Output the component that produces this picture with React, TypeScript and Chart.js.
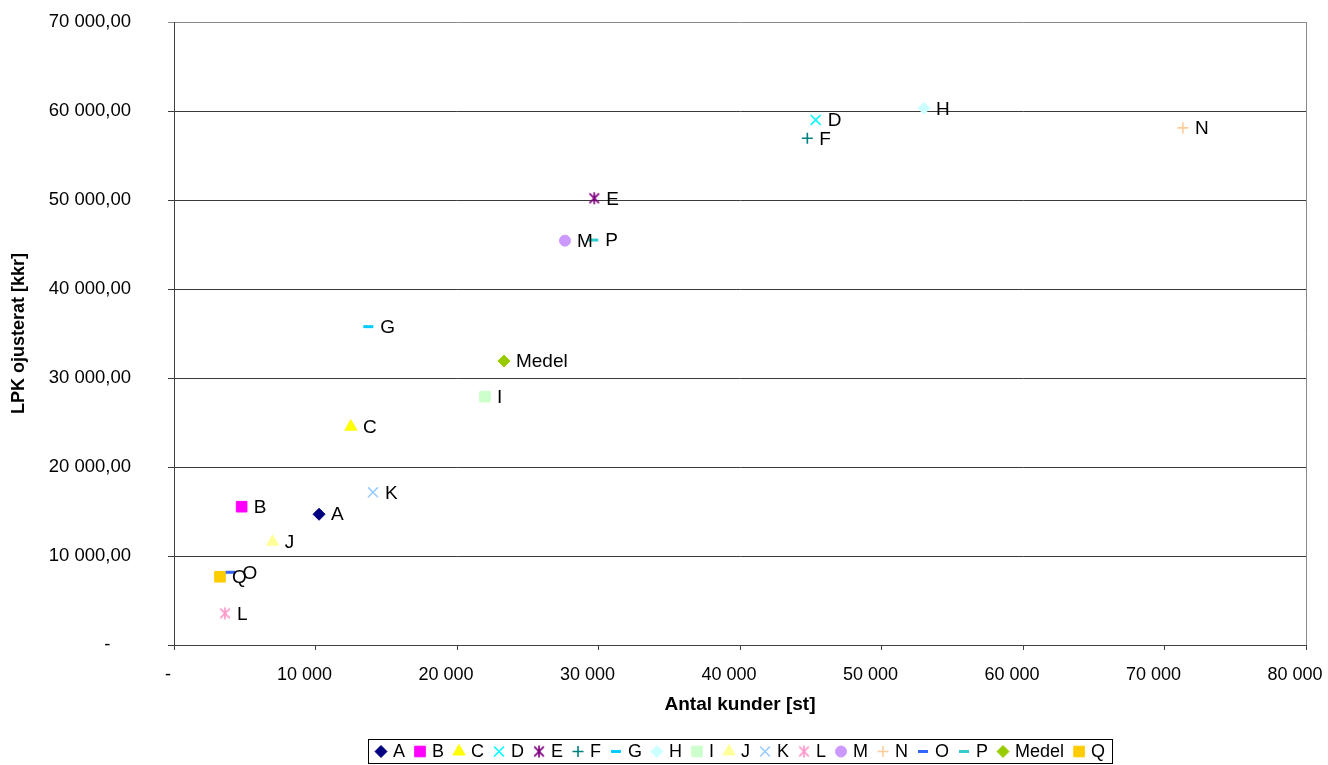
import React, { useEffect, useRef } from "react";
import { Chart, registerables } from "chart.js";
import { drawPoint } from "chart.js/helpers";

Chart.register(...registerables);

const seriesNames = ["A", "B", "C", "D", "E", "F", "G", "H", "I", "J", "K", "L", "M", "N", "O", "P", "Medel", "Q"];
const customers = [10250, 4780, 12500, 45350, 29700, 44760, 13730, 53000, 21980, 6970, 14060, 3600, 27630, 71300, 4000, 29630, 23320, 3250];
const lpk = [14690, 15540, 24530, 58990, 50190, 56930, 35770, 60300, 27900, 11600, 17160, 3560, 45430, 58100, 8170, 45500, 31910, 7670];
const colors = ["#000080", "#FF00FF", "#FFFF00", "#00FFFF", "#800080", "#008080", "#00CCFF", "#CCFFFF", "#CCFFCC", "#FFFF99", "#99CCFF", "#FF99CC", "#CC99FF", "#FFCC99", "#3366FF", "#33CCCC", "#99CC00", "#FFCC00"];
const markers = ["rectRot", "rect", "triangle", "crossRot", "asterisk", "cross", "line", "rectRot", "rect", "triangle", "crossRot", "asterisk", "circle", "cross", "line", "line", "rectRot", "rect"];

const xTicks = [0, 10000, 20000, 30000, 40000, 50000, 60000, 70000, 80000];
const yTicks = [0, 10000, 20000, 30000, 40000, 50000, 60000, 70000];

const FONT = "'Liberation Sans', Arial, sans-serif";

const radiusFor = (m: string) => {
  switch (m) {
    case "rect": return 7.5;
    case "rectRot": return 6;
    case "triangle": return 7;
    case "circle": return 5.5;
    case "crossRot": return 7;
    case "asterisk": return 6;
    case "cross": return 5.5;
    case "line": return 5;
    default: return 5;
  }
};
const widthFor = (m: string) => (m === "line" ? 3 : m === "cross" || m === "crossRot" || m === "asterisk" ? 1.6 : 1);

function asteriskCanvas(color: string, size: number) {
  const c = document.createElement("canvas");
  c.width = size;
  c.height = size;
  const g = c.getContext("2d")!;
  const m = size / 2;
  const r = size / 2 - 1;
  g.strokeStyle = color;
  g.lineWidth = 1.7;
  g.beginPath();
  g.moveTo(m, m - r);
  g.lineTo(m, m + r);
  const d = r * 0.8;
  g.moveTo(m - d, m - d);
  g.lineTo(m + d, m + d);
  g.moveTo(m + d, m - d);
  g.lineTo(m - d, m + d);
  g.stroke();
  return c;
}

const spaced = (v: number) => Math.round(v).toString().replace(/\B(?=(\d{3})+(?!\d))/g, " ");

const labelsPlugin = {
  id: "pointLabels",
  afterDatasetsDraw(chart: any) {
    const ctx = chart.ctx;
    ctx.save();
    ctx.font = `19px ${FONT}`;
    ctx.fillStyle = "#000";
    ctx.textBaseline = "middle";
    ctx.textAlign = "left";
    chart.data.datasets.forEach((ds: any, i: number) => {
      const meta = chart.getDatasetMeta(i);
      const el = meta.data[0];
      if (!el) return;
      ctx.fillText(ds.label, el.x + 12, el.y + 1);
    });
    ctx.restore();
  },
};

const frameAndLegendPlugin = {
  id: "frameLegend",
  afterDraw(chart: any) {
    const ctx = chart.ctx;
    const a = chart.chartArea;
    ctx.save();
    ctx.strokeStyle = "#8a8a8a";
    ctx.lineWidth = 1;
    ctx.beginPath();
    ctx.moveTo(Math.round(a.right) + 0.5, a.top);
    ctx.lineTo(Math.round(a.right) + 0.5, a.bottom);
    ctx.stroke();

    ctx.font = `18px ${FONT}`;
    const pre = 18;
    const post = 9;
    const widths = chart.data.datasets.map((ds: any) => ctx.measureText(ds.label).width);
    const total = widths.reduce((s: number, w: number) => s + pre + w + post, 0) - post;
    const padX = 7;
    const boxW = total + padX * 2;
    const cx = (a.left + a.right) / 2;
    const boxLeft = Math.round(cx - boxW / 2);
    const boxTop = 739;
    const boxH = 24;
    ctx.strokeStyle = "#000";
    ctx.strokeRect(boxLeft + 0.5, boxTop + 0.5, Math.round(boxW), boxH);
    const cy = boxTop + boxH / 2 + 0.5;
    let x = boxLeft + padX;
    ctx.textBaseline = "middle";
    ctx.textAlign = "left";
    chart.data.datasets.forEach((ds: any, i: number) => {
      ctx.save();
      ctx.fillStyle = ds.backgroundColor;
      ctx.strokeStyle = ds.borderColor;
      ctx.lineWidth = ds.pointBorderWidth;
      drawPoint(ctx, { pointStyle: ds.pointStyle, radius: ds.pointRadius, borderWidth: ds.pointBorderWidth, rotation: 0 } as any, x + 6, cy);
      ctx.restore();
      ctx.fillStyle = "#000";
      ctx.fillText(ds.label, x + pre, cy + 1);
      x += pre + widths[i] + post;
    });
    ctx.restore();
  },
};

export default function App() {
  const ref = useRef<HTMLCanvasElement | null>(null);
  useEffect(() => {
    if (!ref.current) return;
    const datasets = seriesNames.map((name, i) => ({
      label: name,
      data: [{ x: customers[i], y: lpk[i] }],
      backgroundColor: colors[i],
      borderColor: colors[i],
      pointStyle: markers[i] === "asterisk" ? asteriskCanvas(colors[i], 14) : markers[i],
      pointRadius: radiusFor(markers[i]),
      pointBorderWidth: widthFor(markers[i]),
      pointHoverRadius: radiusFor(markers[i]),
      showLine: false,
    }));
    const chart = new Chart(ref.current, {
      type: "scatter",
      data: { datasets },
      plugins: [labelsPlugin, frameAndLegendPlugin],
      options: {
        animation: false,
        responsive: false,
        events: [],
        layout: { padding: { top: 22, right: 22, left: 0, bottom: 30 } },
        plugins: {
          legend: { display: false },
          tooltip: { enabled: false },
        },
        scales: {
          x: {
            type: "linear",
            min: 0,
            max: 80000,
            afterBuildTicks: (s: any) => { s.ticks = xTicks.map((v) => ({ value: v })); },
            afterFit: (s: any) => { s.height = 90; s.paddingLeft = 0; s.paddingRight = 0; },
            ticks: {
              color: "#000",
              font: { family: FONT, size: 18 },
              padding: 14,
              labelOffset: -11,
              maxRotation: 0,
              autoSkip: false,
              callback: (v: any) => (Number(v) === 0 ? "  -" : spaced(Number(v))),
            },
            grid: { drawOnChartArea: false, drawTicks: true, tickLength: 5, color: "#404040" },
            border: { display: true, color: "#404040" },
            title: {
              display: true,
              text: "Antal kunder [st]",
              color: "#000",
              font: { family: FONT, size: 19, weight: "bold" },
              padding: { top: 0, bottom: 19 },
            },
          },
          y: {
            type: "linear",
            min: 0,
            max: 70000,
            afterBuildTicks: (s: any) => { s.ticks = yTicks.map((v) => ({ value: v })); },
            afterFit: (s: any) => { s.width = 174; s.paddingTop = 0; s.paddingBottom = 0; },
            ticks: {
              color: "#000",
              font: { family: FONT, size: 18.5 },
              padding: 37,
              autoSkip: false,
              callback: (v: any) => (Number(v) === 0 ? "-    " : spaced(Number(v)) + ",00"),
            },
            grid: {
              drawOnChartArea: true,
              drawTicks: true,
              tickLength: 6,
              color: (c: any) => (c.tick && c.tick.value === 70000 ? "#8a8a8a" : "#3a3a3a"),
            },
            border: { display: true, color: "#404040" },
            title: {
              display: true,
              text: "LPK ojusterat [kkr]",
              color: "#000",
              font: { family: FONT, size: 18, weight: "bold" },
              padding: { top: 8, bottom: 0 },
            },
          },
        },
      } as any,
    });
    return () => chart.destroy();
  }, []);
  return (
    <div style={{ position: "fixed", left: 0, top: 0, width: 1328, height: 765, background: "#fff" }}>
      <canvas ref={ref} width={1328} height={765} style={{ width: 1328, height: 765, display: "block" }} />
    </div>
  );
}
